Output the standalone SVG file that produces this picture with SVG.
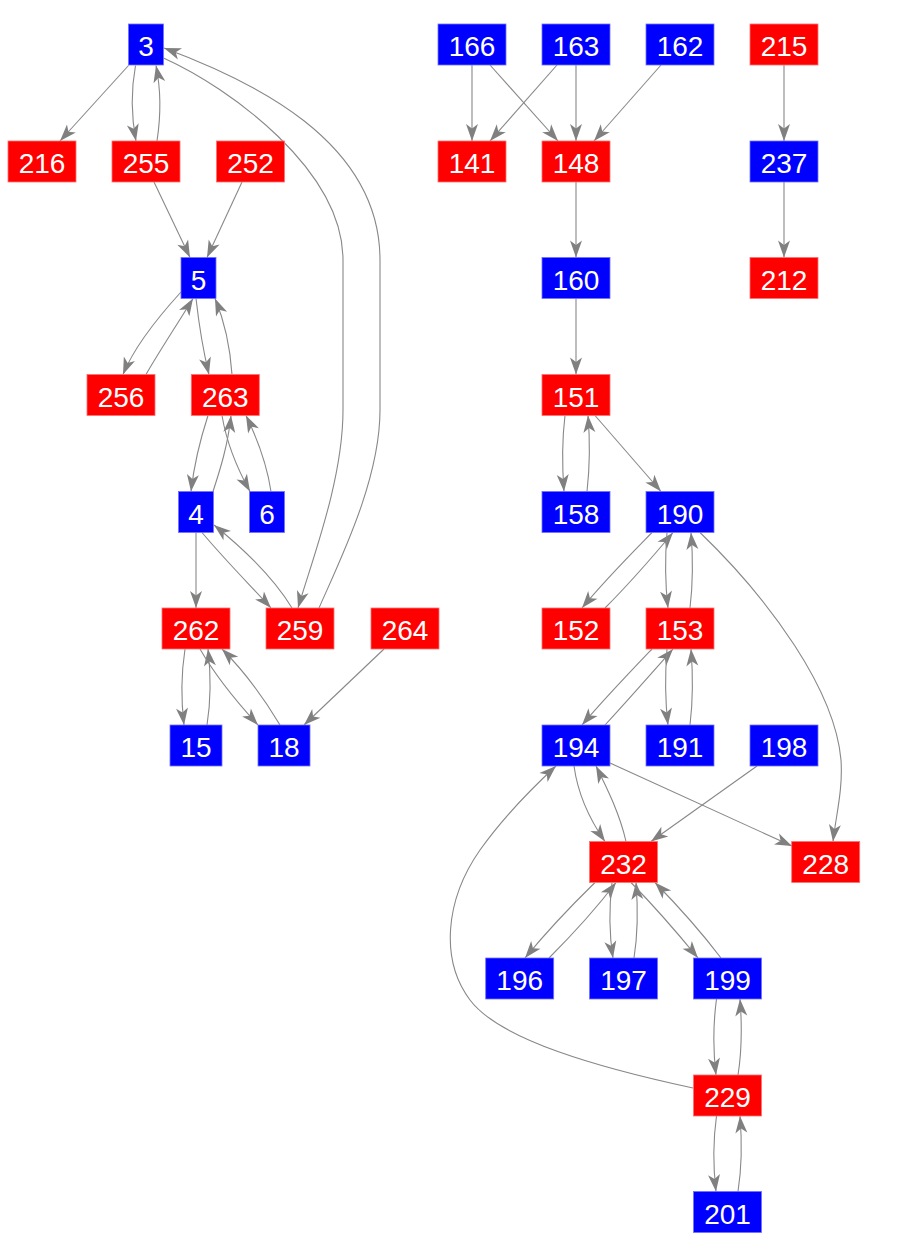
<svg xmlns="http://www.w3.org/2000/svg" width="904" height="1258" viewBox="0 0 904 1258">
<style>
.e{fill:none;stroke:#888888;stroke-width:1.1;marker-end:url(#ah)}
.b rect{fill:#0000ff;stroke:#7070ff;stroke-width:0.8}
.r rect{fill:#ff0000;stroke:#ff7070;stroke-width:0.8}
text{font-family:"Liberation Sans",Arial,sans-serif;font-size:28px;fill:#ffffff;text-anchor:middle}
</style>
<defs>
<marker id="ah" markerUnits="userSpaceOnUse" markerWidth="20" markerHeight="16" viewBox="-18 -8 20 16" refX="0" refY="0" orient="auto">
<path d="M0,0 L-17,-6 L-12.5,0 L-17,6 Z" fill="#808080"/>
</marker>
</defs>
<rect width="904" height="1258" fill="#ffffff"/>
<g id="edges">
<path class="e" d="M128.5,65.5 L60,141"/>
<path class="e" d="M135.5,65.5 C131,90 131,115 136,141"/>
<path class="e" d="M157,141 C161,115 161,90 156,65.5"/>
<path class="e" d="M163.5,58 C230,88 343,170 343,260 L343,410 C343,480 312,560 298,608"/>
<path class="e" d="M319,608 C340,560 380,480 380,410 L380,260 C380,140 250,80 164,48"/>
<path class="e" d="M154,182 L190,257.5"/>
<path class="e" d="M242,182 L207,257.5"/>
<path class="e" d="M181,292 C160,315 135,345 123,374.5"/>
<path class="e" d="M146,374.5 C160,350 180,320 193,298.5"/>
<path class="e" d="M196,298.5 C199,325 203,350 209,374.5"/>
<path class="e" d="M232,374.5 C230,345 224,320 215,298.5"/>
<path class="e" d="M208,415.5 C200,440 194,465 191,491.5"/>
<path class="e" d="M213,491.5 C220,470 228,445 231,415.5"/>
<path class="e" d="M222,415.5 C227,445 238,470 250,491.5"/>
<path class="e" d="M271,491.5 C267,465 258,440 246,415.5"/>
<path class="e" d="M196,532.5 L196,608"/>
<path class="e" d="M202,532.5 C225,560 250,585 271,608"/>
<path class="e" d="M292,608 C275,580 245,550 214,525"/>
<path class="e" d="M185,649 C181,675 181,700 184,725"/>
<path class="e" d="M207,725 C211,700 211,675 208,649"/>
<path class="e" d="M200,649 C215,675 235,700 258,725"/>
<path class="e" d="M280,725 C265,700 245,672 222,649"/>
<path class="e" d="M384,649 L304,725"/>
<path class="e" d="M472,65 L472,141"/>
<path class="e" d="M490,65 L558,141"/>
<path class="e" d="M557,65 L490,141"/>
<path class="e" d="M576,65 L576,141"/>
<path class="e" d="M661,65 L594,141"/>
<path class="e" d="M784,65 L784,141"/>
<path class="e" d="M784,182 L784,257.5"/>
<path class="e" d="M576,182 L576,257.5"/>
<path class="e" d="M576,298.5 L576,374.5"/>
<path class="e" d="M565,415.5 C562,440 562,465 564,491.5"/>
<path class="e" d="M587,491.5 C590,465 590,440 588,415.5"/>
<path class="e" d="M595,415.5 L661,491.5"/>
<path class="e" d="M652,532.5 C630,555 605,580 582,608"/>
<path class="e" d="M605,608 C628,585 650,560 673,532.5"/>
<path class="e" d="M667,532.5 C665,557 665,583 668,608"/>
<path class="e" d="M690,608 C693,583 693,557 691,532.5"/>
<path class="e" d="M700,532.5 C770,600 835,690 841,760 C843,790 836,815 833,841.5"/>
<path class="e" d="M652,649 C630,672 605,698 582,725"/>
<path class="e" d="M605,725 C628,700 650,675 673,649"/>
<path class="e" d="M667,649 C665,674 665,700 668,725"/>
<path class="e" d="M690,725 C693,700 693,674 691,649"/>
<path class="e" d="M574,766 C578,795 590,820 605,841.5"/>
<path class="e" d="M626,841.5 C620,815 608,790 596,766"/>
<path class="e" d="M610,763 L792,846"/>
<path class="e" d="M757,766 L651,841.5"/>
<path class="e" d="M595,882.5 C572,905 548,930 525,958"/>
<path class="e" d="M549,958 C572,935 595,910 616,882.5"/>
<path class="e" d="M612,882.5 C609,908 609,933 613,958"/>
<path class="e" d="M634,958 C638,933 638,908 636,882.5"/>
<path class="e" d="M631,882.5 C653,905 675,930 698,958"/>
<path class="e" d="M721,958 C702,933 680,908 655,882.5"/>
<path class="e" d="M716.5,999 C713,1025 713,1050 716,1075"/>
<path class="e" d="M738,1075 C742,1050 742,1025 740,999"/>
<path class="e" d="M716.5,1116 C713,1141 713,1166 716,1191.5"/>
<path class="e" d="M738,1191.5 C742,1166 742,1141 740,1116"/>
<path class="e" d="M693,1088 C600,1068 500,1040 470,1000 C440,960 445,900 480,850 C505,815 530,790 556,766"/>
</g>
<g id="n3" class="b"><rect x="128.5" y="24" width="35" height="41"/><text x="146" y="56.3">3</text></g>
<g id="n216" class="r"><rect x="8" y="141" width="68" height="41"/><text x="42" y="173.3">216</text></g>
<g id="n255" class="r"><rect x="112" y="141" width="68" height="41"/><text x="146" y="173.3">255</text></g>
<g id="n252" class="r"><rect x="216.5" y="141" width="68" height="41"/><text x="250.5" y="173.3">252</text></g>
<g id="n5" class="b"><rect x="181" y="257.5" width="35" height="41"/><text x="198.5" y="289.8">5</text></g>
<g id="n256" class="r"><rect x="87" y="374.5" width="68" height="41"/><text x="121" y="406.8">256</text></g>
<g id="n263" class="r"><rect x="191.3" y="374.5" width="68" height="41"/><text x="225.3" y="406.8">263</text></g>
<g id="n4" class="b"><rect x="178.5" y="491.5" width="35" height="41"/><text x="196" y="523.8">4</text></g>
<g id="n6" class="b"><rect x="249.5" y="491.5" width="35" height="41"/><text x="267" y="523.8">6</text></g>
<g id="n262" class="r"><rect x="162" y="608" width="68" height="41"/><text x="196" y="640.3">262</text></g>
<g id="n259" class="r"><rect x="266" y="608" width="68" height="41"/><text x="300" y="640.3">259</text></g>
<g id="n264" class="r"><rect x="371" y="608" width="68" height="41"/><text x="405" y="640.3">264</text></g>
<g id="n15" class="b"><rect x="170" y="725" width="52" height="41"/><text x="196" y="757.3">15</text></g>
<g id="n18" class="b"><rect x="258" y="725" width="52" height="41"/><text x="284" y="757.3">18</text></g>
<g id="n166" class="b"><rect x="438" y="24" width="68" height="41"/><text x="472" y="56.3">166</text></g>
<g id="n163" class="b"><rect x="542" y="24" width="68" height="41"/><text x="576" y="56.3">163</text></g>
<g id="n162" class="b"><rect x="646" y="24" width="68" height="41"/><text x="680" y="56.3">162</text></g>
<g id="n215" class="r"><rect x="750" y="24" width="68" height="41"/><text x="784" y="56.3">215</text></g>
<g id="n141" class="r"><rect x="438" y="141" width="68" height="41"/><text x="472" y="173.3">141</text></g>
<g id="n148" class="r"><rect x="542" y="141" width="68" height="41"/><text x="576" y="173.3">148</text></g>
<g id="n237" class="b"><rect x="750" y="141" width="68" height="41"/><text x="784" y="173.3">237</text></g>
<g id="n160" class="b"><rect x="542" y="257.5" width="68" height="41"/><text x="576" y="289.8">160</text></g>
<g id="n212" class="r"><rect x="750" y="257.5" width="68" height="41"/><text x="784" y="289.8">212</text></g>
<g id="n151" class="r"><rect x="542" y="374.5" width="68" height="41"/><text x="576" y="406.8">151</text></g>
<g id="n158" class="b"><rect x="542" y="491.5" width="68" height="41"/><text x="576" y="523.8">158</text></g>
<g id="n190" class="b"><rect x="646" y="491.5" width="68" height="41"/><text x="680" y="523.8">190</text></g>
<g id="n152" class="r"><rect x="542" y="608" width="68" height="41"/><text x="576" y="640.3">152</text></g>
<g id="n153" class="r"><rect x="646" y="608" width="68" height="41"/><text x="680" y="640.3">153</text></g>
<g id="n194" class="b"><rect x="542" y="725" width="68" height="41"/><text x="576" y="757.3">194</text></g>
<g id="n191" class="b"><rect x="646" y="725" width="68" height="41"/><text x="680" y="757.3">191</text></g>
<g id="n198" class="b"><rect x="750" y="725" width="68" height="41"/><text x="784" y="757.3">198</text></g>
<g id="n232" class="r"><rect x="589.5" y="841.5" width="68" height="41"/><text x="623.5" y="873.8">232</text></g>
<g id="n228" class="r"><rect x="791.7" y="841.5" width="68" height="41"/><text x="825.7" y="873.8">228</text></g>
<g id="n196" class="b"><rect x="485.7" y="958" width="68" height="41"/><text x="519.7" y="990.3">196</text></g>
<g id="n197" class="b"><rect x="589.5" y="958" width="68" height="41"/><text x="623.5" y="990.3">197</text></g>
<g id="n199" class="b"><rect x="693.5" y="958" width="68" height="41"/><text x="727.5" y="990.3">199</text></g>
<g id="n229" class="r"><rect x="693.5" y="1075" width="68" height="41"/><text x="727.5" y="1107.3">229</text></g>
<g id="n201" class="b"><rect x="693.5" y="1191.5" width="68" height="41"/><text x="727.5" y="1223.8">201</text></g>
</svg>
